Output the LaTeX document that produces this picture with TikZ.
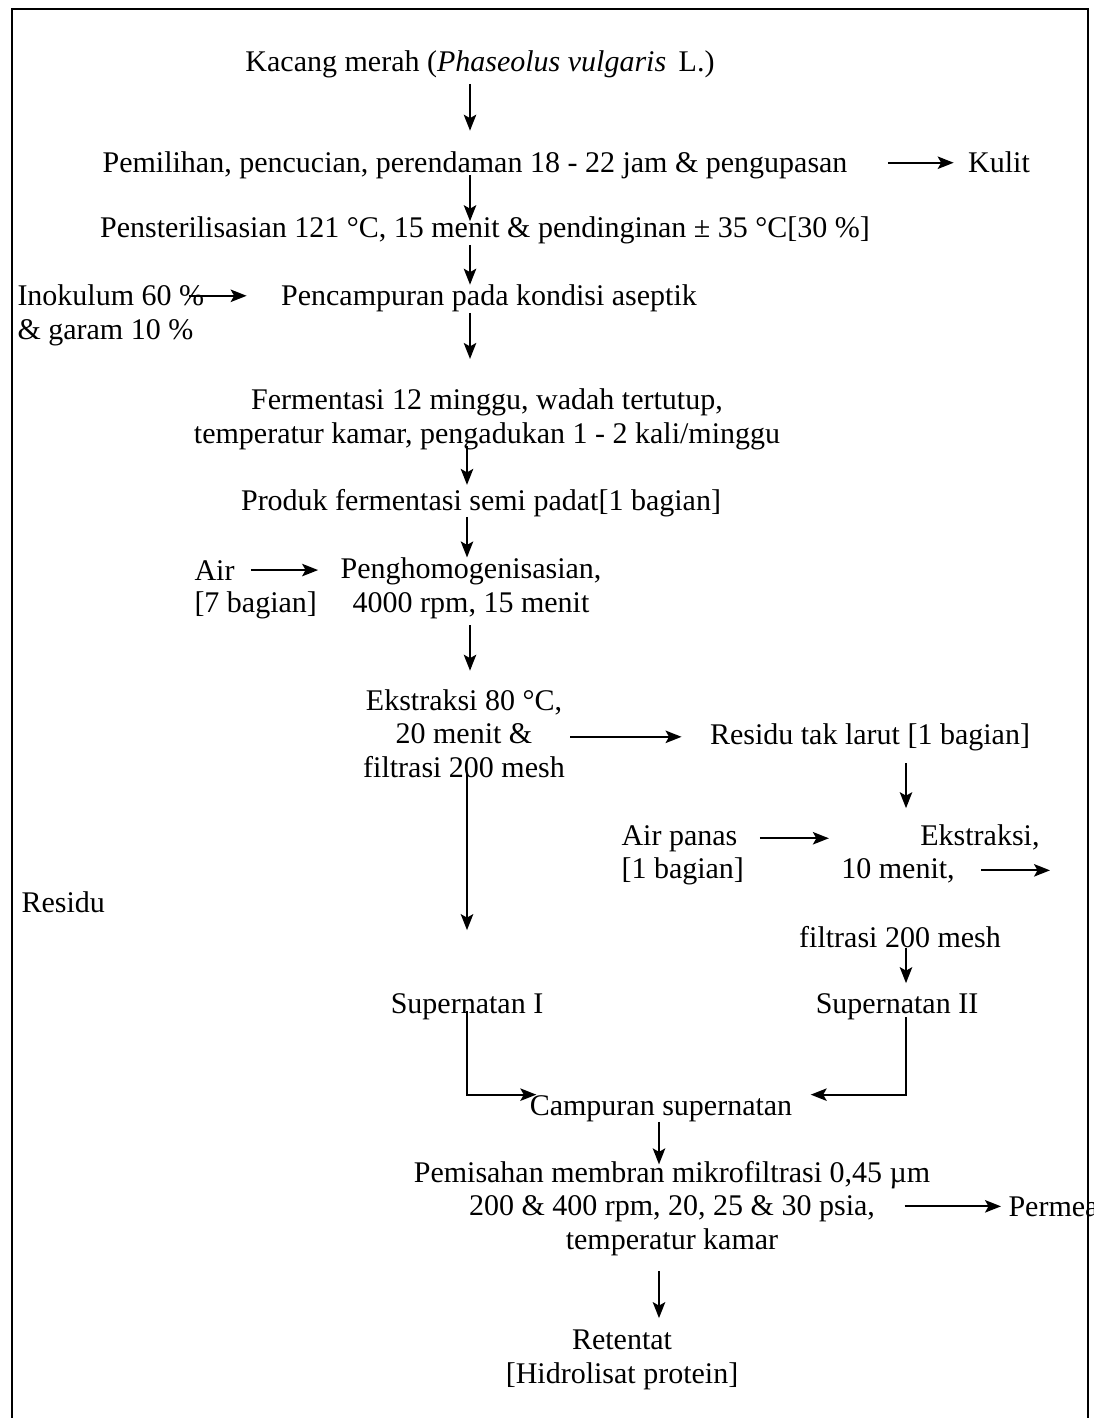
\documentclass[tikz,border=0pt]{standalone}
\usepackage{fontspec}
\setmainfont{Liberation Serif}
\usetikzlibrary{arrows.meta}

\tikzset{
    teks/.style={inner sep=0pt, font=\fontsize{12pt}{13.3pt}\selectfont},
    alir/.style={->, line width=0.7pt},
    bingkai/.style={line width=0.8pt}
}

\begin{document}
\begin{tikzpicture}[x=0.4pt, y=-0.4pt, >={Stealth[length=6.4pt,width=5pt,inset=1.4pt]}]
    \clip (0,0) rectangle (1093,1418);
    \draw[bingkai] (12,1418) -- (12,9) -- (1088,9) -- (1088,1418);

    \coordinate (jalur) at (470,0);
    \coordinate (jalurb) at (467,0);
    \coordinate (jalurc) at (906,0);
    \coordinate (jalurd) at (659,0);
    \coordinate (keluar) at (1050,870);

    \node[teks, anchor=base] (kacang) at (480,72) {Kacang merah (\textit{Phaseolus vulgaris}\, L.)};
    \node[teks, anchor=base] (pilih) at (475,173) {Pemilihan, pencucian, perendaman 18 - 22 jam \& pengupasan};
    \node[teks, anchor=base] (kulit) at (999,173) {Kulit};
    \node[teks, anchor=base] (steril) at (485,238) {Pensterilisasian 121 °C, 15 menit \& pendinginan ± 35 °C[30 \%]};
    \node[teks, anchor=base west] (inok) at (17,306) {Inokulum 60 \%};
    \node[teks, anchor=base west] (garam) at (17,339) {\& garam 10 \%};
    \node[teks, anchor=base] (campur) at (489,306) {Pencampuran pada kondisi aseptik};
    \node[teks, anchor=base, align=center] (ferment) at (487,443) {Fermentasi 12 minggu, wadah tertutup,\\temperatur kamar, pengadukan 1 - 2 kali/minggu};
    \node[teks, anchor=base] (produk) at (481,510) {Produk fermentasi semi padat[1 bagian]};
    \node[teks, anchor=base west] (air) at (194,580) {Air};
    \node[teks, anchor=base west] (air7) at (194,612) {[7 bagian]};
    \node[teks, anchor=base, align=center] (homogen) at (471,612) {Penghomogenisasian,\\4000 rpm, 15 menit};
    \node[teks, anchor=base, align=center] (ekstrak) at (464,777) {Ekstraksi 80 °C,\\20 menit \&\\filtrasi 200 mesh};
    \node[teks, anchor=base] (residu) at (870,744) {Residu tak larut [1 bagian]};
    \node[teks, anchor=base west] (airpanas) at (621,845) {Air panas};
    \node[teks, anchor=base west] (airpanas1) at (621,878) {[1 bagian]};
    \node[teks, anchor=base east] (ekstrak2) at (1040,845) {Ekstraksi,};
    \node[teks, anchor=base] (menit2) at (898,878) {10 menit,};
    \node[teks, anchor=base west] (residukiri) at (21,912) {Residu};
    \node[teks, anchor=base] (filtrasi2) at (900,947) {filtrasi 200 mesh};
    \node[teks, anchor=base] (super1) at (467,1013) {Supernatan I};
    \node[teks, anchor=base] (super2) at (897,1013) {Supernatan II};
    \node[teks, anchor=base] (campuran) at (661,1115) {Campuran supernatan};
    \node[teks, anchor=base, align=center] (pisah) at (672,1249) {Pemisahan membran mikrofiltrasi 0,45 µm\\200 \& 400 rpm, 20, 25 \& 30 psia,\\temperatur kamar};
    \node[teks, anchor=base west] (permea) at (1008,1216) {Permea};
    \node[teks, anchor=base, align=center] (retentat) at (622,1383) {Retentat\\{[Hidrolisat protein]}};

    \draw[alir, shorten <=2pt, shorten >=8.4pt] (kacang.south -| jalur) -- (pilih.north -| jalur);
    \draw[alir, shorten <=16pt, shorten >=5.6pt] (pilih.east |- kulit.west) -- (kulit.west);
    \draw[alir, shorten <=-1.8pt, shorten >=-1.8pt] (pilih.south -| jalur) -- (steril.north -| jalur);
    \draw[alir] (steril.south -| jalur) -- (campur.north -| jalur);
    \draw[alir, shorten <=-6.4pt, shorten >=13.6pt] (inok.east) -- (inok.east -| campur.west);
    \draw[alir, shorten >=11.8pt] (campur.south -| jalur) -- (ferment.north -| jalur);
    \draw[alir, shorten <=-1.4pt, shorten >=1.4pt] (ferment.south -| jalurb) -- (produk.north -| jalurb);
    \draw[alir] (produk.south -| jalurb) -- (homogen.north -| jalurb);
    \draw[alir, shorten <=6.4pt, shorten >=8.8pt] (air.east) -- (air.east -| homogen.west);
    \draw[alir, shorten <=2.6pt, shorten >=7.4pt] (homogen.south -| jalur) -- (ekstrak.north -| jalur);
    \draw[alir, shorten <=2pt, shorten >=11.2pt] (ekstrak.east |- residu.west) -- (residu.west);
    \draw[alir, shorten <=-1.6pt, shorten >=25pt] (ekstrak.south -| jalurb) -- (super1.north -| jalurb);
    \draw[alir, shorten <=5pt, shorten >=6.2pt] (residu.south -| jalurc) -- (ekstrak2.north -| jalurc);
    \draw[alir, shorten <=8.8pt, shorten >=36.4pt] (airpanas.east) -- (airpanas.east -| ekstrak2.west);
    \draw[alir, shorten <=10.4pt] (menit2.east) -- (menit2.east -| keluar);
    \draw[alir, shorten >=3.8pt] (filtrasi2.south -| jalurc) -- (super2.north -| jalurc);
    \draw[alir, shorten <=-3.6pt, shorten >=-2.8pt] (super1.south -| jalurb) |- (campuran.north west);
    \draw[alir, shorten <=-1pt, shorten >=7.2pt] (super2.south -| jalurc) |- (campuran.north east);
    \draw[alir, shorten >=-1.4pt] (campuran.south -| jalurd) -- (pisah.north -| jalurd);
    \draw[alir, shorten <=-10.4pt, shorten >=2.8pt] (pisah.east |- permea.west) -- (permea.west);
    \draw[alir, shorten <=6.2pt, shorten >=4.6pt] (pisah.south -| jalurd) -- (retentat.north -| jalurd);
\end{tikzpicture}
\end{document}
